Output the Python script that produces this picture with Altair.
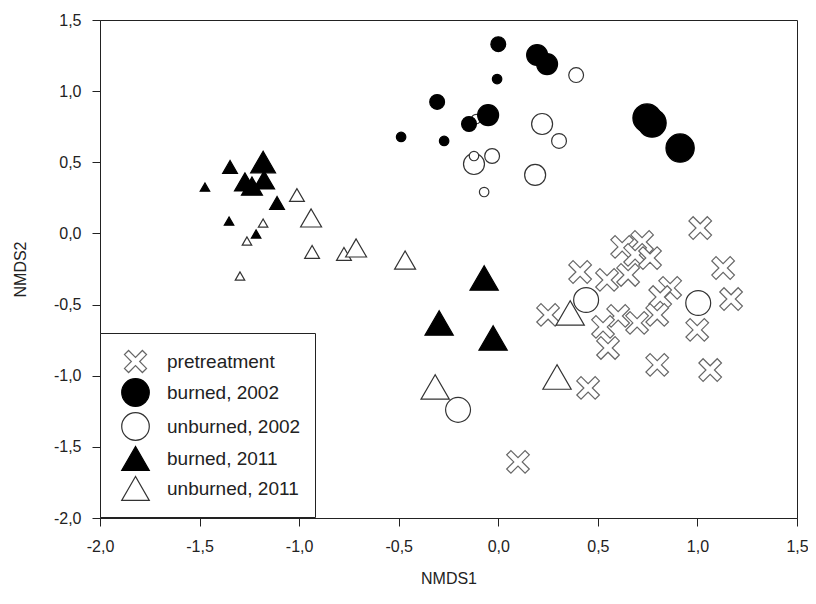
import altair as alt
import pandas as pd

groups = ["pretreatment", "burned, 2002", "unburned, 2002", "burned, 2011", "unburned, 2011"]

pre_x = [1.014, 1.129, 1.169, 0.411, 0.622, 0.722, 0.687, 0.762, 0.546, 0.652, 0.863, 0.813,
         0.798, 0.999, 0.250, 0.602, 0.526, 0.697, 0.551, 0.798, 1.064, 0.451, 0.099]
pre_y = [0.038, -0.243, -0.461, -0.271, -0.095, -0.060, -0.151, -0.173, -0.327, -0.292, -0.383, -0.447,
         -0.573, -0.678, -0.573, -0.580, -0.657, -0.629, -0.805, -0.924, -0.960, -1.086, -1.606]
pre_w = [5] * 23

b02_x = [0.000, 0.195, 0.245, -0.006, -0.307, -0.051, -0.147, -0.488, -0.272, 0.747, 0.772, 0.913]
b02_y = [1.330, 1.254, 1.190, 1.085, 0.924, 0.832, 0.769, 0.678, 0.650, 0.811, 0.776, 0.600]
b02_w = [2, 3, 3, 1, 2, 3, 2, 1, 1, 5, 5, 5]

u02_x = [0.391, 0.220, 0.305, -0.031, -0.122, -0.122, 0.185, -0.071, 0.441, 1.004, -0.202, -0.111]
u02_y = [1.113, 0.769, 0.650, 0.544, 0.488, 0.544, 0.411, 0.291, -0.468, -0.489, -1.240, 0.804]
u02_w = [2, 3, 2, 2, 3, 1, 3, 1, 4, 4, 4, 1]

b11_x = [-1.181, -1.347, -1.272, -1.237, -1.176, -1.473, -1.111, -1.352, -1.216, -0.071, -0.297, -0.026]
b11_y = [0.502, 0.467, 0.362, 0.333, 0.376, 0.326, 0.214, 0.087, -0.004, -0.313, -0.629, -0.735]
b11_w = [4, 2, 3, 3, 3, 1, 2, 1, 1, 5, 5, 5]

u11_x = [-1.011, -0.940, -1.181, -1.262, -0.935, -0.775, -0.714, -1.297, -0.468, -0.317, 0.361, 0.295]
u11_y = [0.270, 0.109, 0.073, -0.053, -0.130, -0.144, -0.102, -0.299, -0.187, -1.079, -0.559, -1.009]
u11_w = [2, 3, 1, 1, 2, 2, 3, 1, 3, 5, 5, 5]

ticks = [-2.0, -1.5, -1.0, -0.5, 0.0, 0.5, 1.0, 1.5]

rows = []
for g, xs, ys, ws in [
    (groups[0], pre_x, pre_y, pre_w),
    (groups[2], u02_x, u02_y, u02_w),
    (groups[1], b02_x, b02_y, b02_w),
    (groups[4], u11_x, u11_y, u11_w),
    (groups[3], b11_x, b11_y, b11_w),
]:
    for a, b, w in zip(xs, ys, ws):
        rows.append({"group": g, "x": a, "y": b, "weight": w})
df = pd.DataFrame(rows)

FONT = "Liberation Sans"
label_expr = "replace(replace(format(datum.value, '.1f'), '.', ','), '\u2212', '-')"
X_PATH = ("M-0.5,-0.8L0,-0.3L0.5,-0.8L0.8,-0.5L0.3,0L0.8,0.5L0.5,0.8L0,0.3"
          "L-0.5,0.8L-0.8,0.5L-0.3,0L-0.8,-0.5Z")

legend = alt.Legend(
    title=None, orient="none", legendX=0, legendY=313, padding=14,
    symbolOffset=7, labelOffset=17, labelFontSize=19, labelFont=FONT,
    labelColor="#222", strokeColor="#222", fillColor="white",
    symbolSize=760, symbolStrokeWidth=1.2, rowPadding=1,
)

axis_common = dict(
    values=ticks, labelExpr=label_expr, grid=False, labelFont=FONT, labelFontSize=16,
    labelColor="#222", titleFont=FONT, titleFontSize=16, titleFontWeight="normal",
    titleColor="#222", domainColor="#222", tickColor="#222", tickSize=8,
    labelFlush=False, labelOverlap=False,
)

chart = alt.Chart(df).mark_point(strokeWidth=1.2, opacity=1, fillOpacity=1).encode(
    x=alt.X("x:Q", scale=alt.Scale(domain=[-2, 1.5], nice=False, zero=False),
            axis=alt.Axis(title="NMDS1", labelPadding=12, titleX=348.5, titleY=60,
                          titleBaseline="middle", **axis_common)),
    y=alt.Y("y:Q", scale=alt.Scale(domain=[-2, 1.5], nice=False, zero=False),
            axis=alt.Axis(title="NMDS2", labelPadding=11, titleX=-80, titleY=249,
                          titleBaseline="middle", titleAlign="center", **axis_common)),
    shape=alt.Shape("group:N", scale=alt.Scale(domain=groups,
                    range=[X_PATH, "circle", "circle", "triangle-up", "triangle-up"]), legend=legend),
    fill=alt.Fill("group:N", scale=alt.Scale(domain=groups,
                  range=["white", "black", "white", "black", "white"]), legend=legend),
    stroke=alt.Stroke("group:N", scale=alt.Scale(domain=groups,
                      range=["#666666", "black", "#333333", "black", "#333333"]), legend=legend),
    size=alt.Size("weight:Q", scale=alt.Scale(domain=[1, 2, 3, 4, 5], range=[90, 220, 440, 620, 800]),
                  legend=None),
).properties(
    width=697, height=498,
    padding={"left": 92, "top": 12, "right": 11, "bottom": 78},
    autosize=alt.AutoSizeParams(type="none"),
).configure_view(stroke="#222", strokeWidth=1)

chart.save("out.html", embed_options={"renderer": "svg", "actions": False})
